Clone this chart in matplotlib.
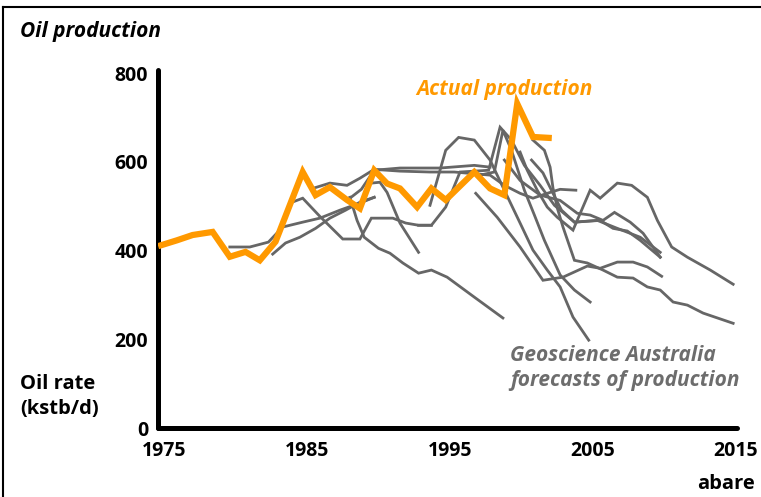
import matplotlib
matplotlib.use('Agg')
import matplotlib.pyplot as plt
from matplotlib.lines import Line2D

plt.rcParams['font.family'] = ['Open Sans', 'DejaVu Sans']

# actual production (kstb/d)
actual_years = [1974.8, 1975.9, 1977.0, 1978.4, 1979.6, 1980.7, 1981.7, 1982.8, 1984.7,
                1985.6, 1986.6, 1987.8, 1988.7, 1989.7, 1990.6, 1991.5, 1992.7, 1993.7,
                1994.7, 1996.7, 1997.8, 1998.8, 1999.7, 2000.8, 2001.9]
actual_rate = [412, 423, 435, 442, 386, 397, 378, 420, 577,
               525, 543, 514, 495, 581, 551, 540, 498, 540,
               514, 577, 540, 525, 731, 656, 654]

# Geoscience Australia forecasts, one (years, rates) pair each
fc1_years = [1979.6, 1981.0, 1982.3, 1983.3, 1984.7, 1985.9, 1987.3, 1988.7, 1989.7]
fc1_rate = [408, 408, 419, 453, 464, 473, 491, 507, 520]

fc2_years = [1982.6, 1983.5, 1984.5, 1985.6, 1986.6, 1987.7, 1988.7, 1989.7]
fc2_rate = [392, 417, 430, 450, 473, 491, 509, 520]

fc3_years = [1983.8, 1984.7, 1985.9, 1987.5, 1988.7, 1989.5, 1991.0, 1991.9, 1992.8, 1993.7]
fc3_rate = [507, 518, 477, 426, 426, 473, 473, 462, 457, 457]

fc4_years = [1992.8, 1993.7, 1994.7, 1995.7, 1997.7, 1998.5, 1999.3, 2000.2, 2001.3,
             2002.3, 2003.7, 2005.5, 2006.4, 2007.4, 2008.3, 2009.7]
fc4_rate = [457, 457, 498, 577, 581, 678, 649, 592, 547,
            502, 464, 468, 450, 444, 423, 385]

fc5_years = [1985.4, 1986.6, 1987.8, 1988.7, 1989.7, 1991.5, 1993.6, 1995.3, 1997.8,
             1998.8, 1999.9, 2000.8, 2001.8, 2002.7, 2003.8]
fc5_rate = [540, 552, 547, 563, 583, 579, 577, 577, 570,
            547, 529, 518, 529, 538, 536]

fc6_years = [1988.0, 1988.5, 1989.0, 1990.0, 1990.8, 1991.7, 1992.8, 1993.7, 1994.8,
             1996.7, 1998.7]
fc6_rate = [520, 468, 430, 405, 394, 372, 349, 356, 340, 295, 248]

fc7_years = [1988.0, 1988.8, 1989.7, 1991.5, 1994.3, 1996.7, 1997.8]
fc7_rate = [518, 538, 581, 586, 586, 592, 588]

fc8_years = [1989.5, 1990.1, 1990.6, 1991.5, 1992.8]
fc8_rate = [552, 554, 531, 462, 396]

fc9_years = [1993.6, 1994.7, 1995.6, 1996.7, 1997.8, 1998.8, 1999.9, 2000.8, 2001.8,
             2002.7, 2003.6, 2004.7]
fc9_rate = [502, 626, 655, 649, 604, 536, 462, 401, 356, 318, 250, 198]

fc10_years = [1997.1, 1998.1, 1998.7, 1999.3, 2000.2, 2000.9, 2001.6, 2002.7, 2003.7, 2004.8]
fc10_rate = [570, 577, 671, 626, 536, 480, 423, 345, 311, 284]

fc11_years = [1996.8, 1998.3, 1999.9, 2001.5, 2002.9, 2004.6, 2005.5, 2006.7, 2007.8,
              2008.8, 2009.8]
fc11_rate = [529, 475, 408, 333, 340, 365, 360, 374, 374, 363, 342]

fc12_years = [2000.8, 2001.6, 2002.0, 2002.2, 2002.5, 2002.9, 2003.7, 2004.6, 2005.7,
              2006.7, 2007.8, 2008.8, 2009.7, 2010.6, 2011.6, 2012.7, 2014.8]
fc12_rate = [649, 626, 588, 541, 496, 453, 378, 372, 356, 340, 338, 318, 311, 284, 277, 259, 236]

fc13_years = [2000.7, 2001.5, 2002.2, 2002.8, 2003.7, 2005.3, 2006.7, 2008.3, 2009.7]
fc13_rate = [604, 575, 529, 491, 464, 468, 450, 430, 396]

fc14_years = [1999.9, 2000.4, 2001.1, 2001.8, 2002.5, 2003.6, 2004.8, 2005.5, 2006.7,
              2007.7, 2008.8, 2009.5, 2010.5, 2011.6, 2013.2, 2014.8]
fc14_rate = [622, 581, 536, 498, 475, 446, 536, 518, 552,
             547, 520, 468, 408, 385, 356, 324]

fc15_years = [1998.8, 1999.9, 2001.3, 2002.7, 2003.9, 2004.8, 2005.7, 2006.5, 2007.6,
              2008.5, 2009.7]
fc15_rate = [604, 558, 525, 513, 484, 480, 468, 486, 464, 439, 385]

forecasts = [(fc1_years, fc1_rate), (fc2_years, fc2_rate), (fc3_years, fc3_rate),
             (fc4_years, fc4_rate), (fc5_years, fc5_rate), (fc6_years, fc6_rate),
             (fc7_years, fc7_rate), (fc8_years, fc8_rate), (fc9_years, fc9_rate),
             (fc10_years, fc10_rate), (fc11_years, fc11_rate), (fc12_years, fc12_rate),
             (fc13_years, fc13_rate), (fc14_years, fc14_rate), (fc15_years, fc15_rate)]

year_ticks = [1975, 1985, 1995, 2005, 2015]
rate_ticks = [0, 200, 400, 600, 800]

grey = '#666666'
orange = '#ff9900'

fig = plt.figure(figsize=(7.61, 4.97), dpi=100)
ax = fig.add_axes([0.2076, 0.1388, 0.7609, 0.7204])

for yrs, vals in forecasts:
    ax.plot(yrs, vals, color=grey, lw=2.0, solid_joinstyle='miter', zorder=2)
ax.plot(actual_years, actual_rate, color=orange, lw=4.5, solid_joinstyle='miter', zorder=3)

ax.set_xlim(1974.58, 2015.07)
ax.set_ylim(0, 807)
ax.set_xticks(year_ticks)
ax.set_yticks(rate_ticks)
ax.tick_params(length=0, labelsize=14)
ax.tick_params(axis='x', pad=9)
ax.tick_params(axis='y', pad=7)
for lab in ax.get_xticklabels() + ax.get_yticklabels():
    lab.set_fontweight('bold')

for s in ['top', 'right']:
    ax.spines[s].set_visible(False)
for s in ['left', 'bottom']:
    ax.spines[s].set_linewidth(3.6)
    ax.spines[s].set_capstyle('round')

fig.text(0.026, 0.937, 'Oil production', fontsize=15, fontweight='bold',
         style='italic', ha='left', va='center')
fig.text(0.6623, 0.8209, 'Actual production', fontsize=15, fontweight='bold',
         style='italic', color=orange, ha='center', va='center')
fig.text(0.670, 0.2596, 'Geoscience Australia\nforecasts of production', fontsize=15,
         fontweight='bold', style='italic', color='#6d6d6d', ha='left', va='center',
         linespacing=1.3)
fig.text(0.026, 0.2022, 'Oil rate\n(kstb/d)', fontsize=14.5, fontweight='bold',
         ha='left', va='center', linespacing=1.35)
fig.text(0.992, 0.026, 'abare', fontsize=14.5, fontweight='bold', ha='right', va='center')

# frame lines on top and left edge
fig.add_artist(Line2D([0.004, 0.004], [0, 0.986], transform=fig.transFigure,
                      color='black', lw=1.5))
fig.add_artist(Line2D([0.004, 1], [0.986, 0.986], transform=fig.transFigure,
                      color='black', lw=1.5))

fig.savefig('out.png', dpi=100)
